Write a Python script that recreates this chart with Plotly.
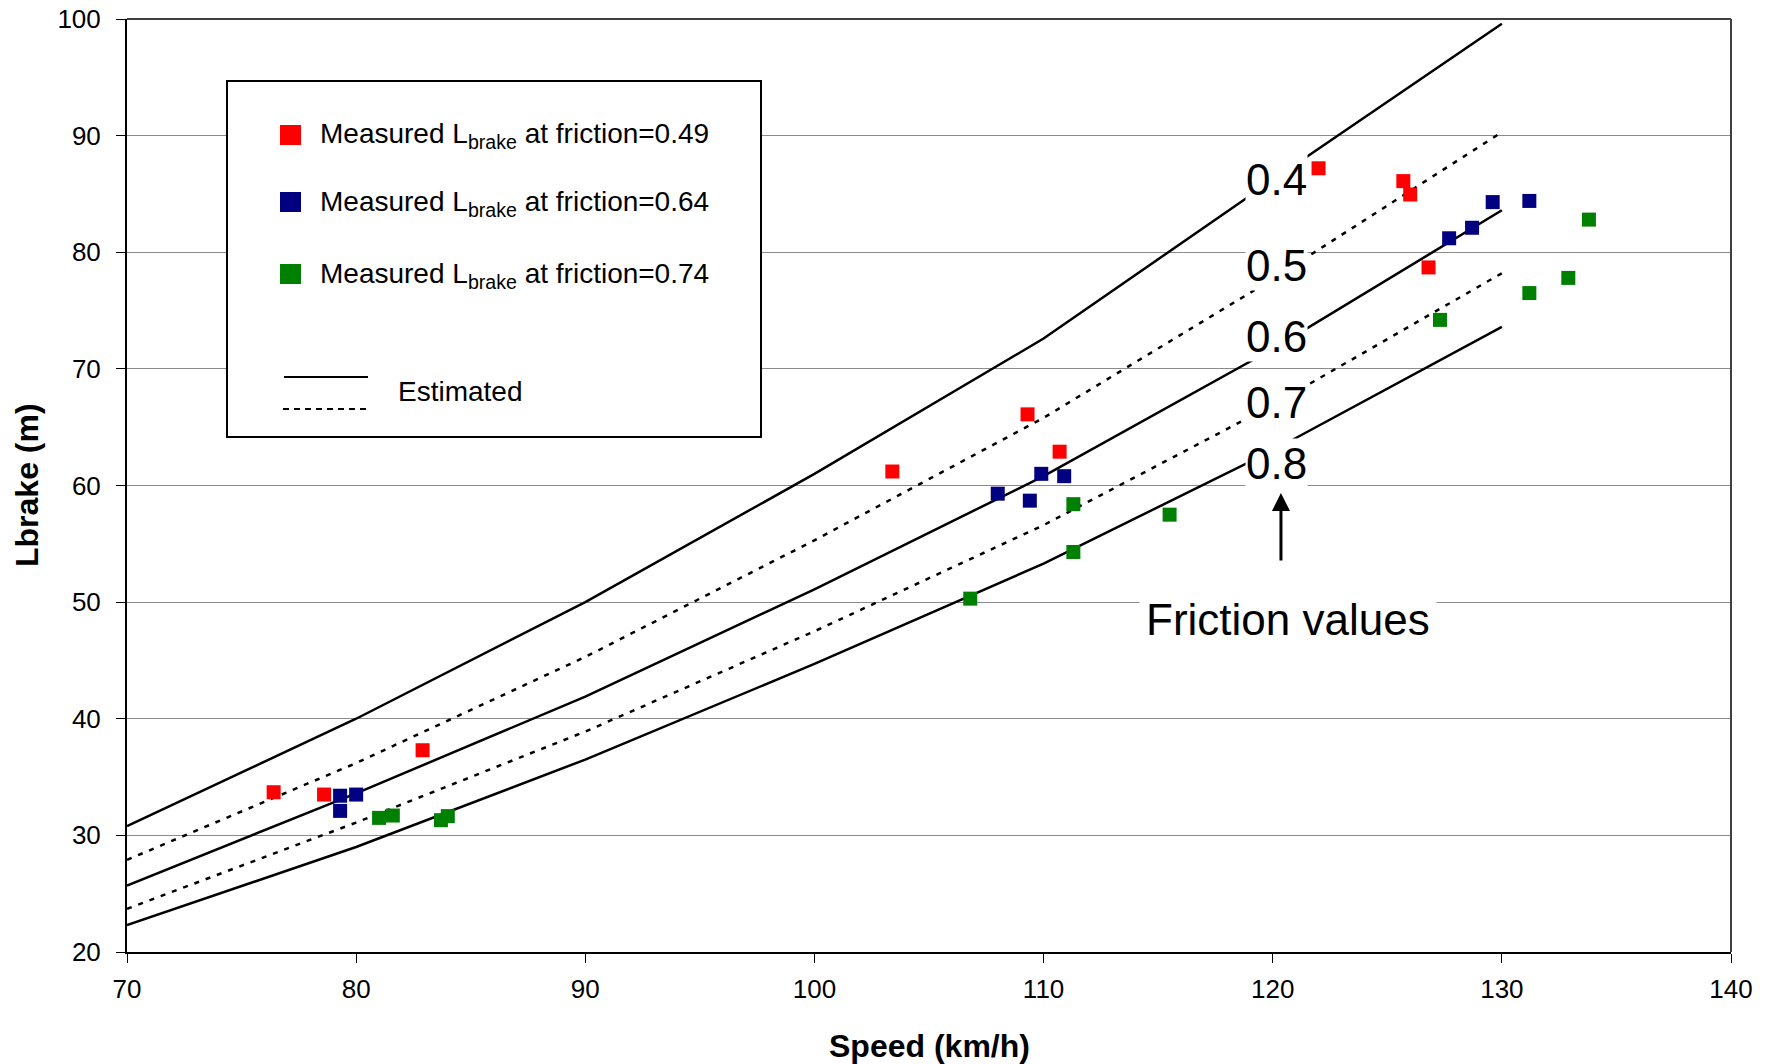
import plotly.graph_objects as go

# ---------------- data ----------------
speed_grid = [70, 80, 90, 100, 110, 120, 130]
est_mu04 = [30.8, 40.0, 50.0, 61.0, 72.6, 86.2, 99.6]
est_mu05 = [27.9, 36.2, 45.3, 55.3, 65.8, 77.7, 90.3]
est_mu06 = [25.7, 33.6, 41.9, 51.1, 60.8, 71.7, 83.6]
est_mu07 = [23.7, 31.1, 38.9, 47.5, 56.6, 66.9, 78.2]
est_mu08 = [22.3, 29.0, 36.5, 44.7, 53.3, 63.0, 73.6]

red_speed = [76.4, 78.6, 82.9, 103.4, 109.3, 110.7, 122.0, 125.7, 126.0, 126.8]
red_len = [33.7, 33.5, 37.3, 61.2, 66.1, 62.9, 87.2, 86.1, 84.95, 78.7]

blue_speed = [79.3, 79.3, 80.0, 108.0, 109.4, 109.9, 110.9, 127.7, 128.7, 129.6, 131.2]
blue_len = [33.4, 32.1, 33.5, 59.3, 58.7, 61.0, 60.8, 81.2, 82.1, 84.3, 84.4]

green_speed = [81.0, 81.6, 83.7, 84.0, 106.8, 111.3, 111.3, 115.5, 127.3, 131.2, 132.9, 133.8]
green_len = [31.5, 31.7, 31.3, 31.65, 50.3, 58.4, 54.3, 57.5, 74.2, 76.5, 77.8, 82.8]

friction_labels = ["0.4", "0.5", "0.6", "0.7", "0.8"]
friction_label_y = [86.2, 78.9, 72.8, 67.1, 61.9]

legend_texts = [
    "Measured L<sub>brake</sub> at friction=0.49",
    "Measured L<sub>brake</sub> at friction=0.64",
    "Measured L<sub>brake</sub> at friction=0.74",
]
legend_colors = ["#FF0000", "#000080", "#008000"]

x_ticks = [70, 80, 90, 100, 110, 120, 130, 140]
y_ticks = [20, 30, 40, 50, 60, 70, 80, 90, 100]

# ---------------- layout helpers (pixel -> paper) ----------------
W, H = 1773, 1064
PL, PR, PT, PB = 127, 1731, 19, 952


def px(x):
    return (x - PL) / (PR - PL)


def py(y):
    return (PB - y) / (PB - PT)


FONT = "Arial, Liberation Sans, sans-serif"

fig = go.Figure()

curves = [
    (est_mu04, "solid"),
    (est_mu05, "5px,7px"),
    (est_mu06, "solid"),
    (est_mu07, "5px,7px"),
    (est_mu08, "solid"),
]
for vals, dash in curves:
    fig.add_trace(go.Scatter(
        x=speed_grid, y=vals, mode="lines",
        line=dict(color="black", width=2.5, dash=dash),
        showlegend=False, hoverinfo="skip",
    ))

for xs, ys, col in [(red_speed, red_len, legend_colors[0]),
                    (blue_speed, blue_len, legend_colors[1]),
                    (green_speed, green_len, legend_colors[2])]:
    fig.add_trace(go.Scatter(
        x=xs, y=ys, mode="markers",
        marker=dict(symbol="square", size=14, color=col, line=dict(width=0)),
        showlegend=False,
    ))

shapes = []
annotations = []

# plot frame (top and right edges)
shapes.append(dict(type="line", xref="paper", yref="paper", x0=0, x1=1, y0=1, y1=1,
                   line=dict(color="#404040", width=2)))
shapes.append(dict(type="line", xref="paper", yref="paper", x0=1, x1=1, y0=0, y1=1,
                   line=dict(color="#404040", width=2)))

# legend box
shapes.append(dict(type="rect", xref="paper", yref="paper",
                   x0=px(227), x1=px(761), y0=py(437), y1=py(81),
                   line=dict(color="black", width=2), fillcolor="white", layer="above"))
leg_y = [135, 202, 274]
for t, c, yy in zip(legend_texts, legend_colors, leg_y):
    shapes.append(dict(type="rect", xref="paper", yref="paper",
                       x0=px(280), x1=px(301), y0=py(yy + 10), y1=py(yy - 10),
                       line=dict(width=0), fillcolor=c, layer="above"))
    annotations.append(dict(xref="paper", yref="paper", x=px(318), y=py(yy + 1),
                            text=t, showarrow=False, xanchor="left", yanchor="middle",
                            font=dict(family=FONT, size=28, color="black")))
shapes.append(dict(type="line", xref="paper", yref="paper",
                   x0=px(284), x1=px(368), y0=py(377), y1=py(377),
                   line=dict(color="black", width=2), layer="above"))
shapes.append(dict(type="line", xref="paper", yref="paper",
                   x0=px(283), x1=px(366), y0=py(409), y1=py(409),
                   line=dict(color="black", width=2, dash="6px,5px"), layer="above"))
annotations.append(dict(xref="paper", yref="paper", x=px(396), y=py(392),
                        text="Estimated", showarrow=False, xanchor="left", yanchor="middle",
                        font=dict(family=FONT, size=28, color="black")))

# friction value labels
for lab, yv in zip(friction_labels, friction_label_y):
    annotations.append(dict(xref="x", yref="y", x=120.15, y=yv, text=lab, showarrow=False,
                            xanchor="center", yanchor="middle", bgcolor="white", borderpad=0,
                            font=dict(family=FONT, size=44, color="black")))

annotations.append(dict(xref="x", yref="y", x=120.67, y=48.47, text="Friction values",
                        showarrow=False, xanchor="center", yanchor="middle",
                        bgcolor="white", borderpad=6,
                        font=dict(family=FONT, size=44, color="black")))

# arrow
annotations.append(dict(xref="x", yref="y", x=120.36, y=59.36, text=" ", showarrow=True,
                        ax=0, ay=84, arrowhead=2, arrowsize=1.2, arrowwidth=3,
                        arrowcolor="black"))

# axis titles
annotations.append(dict(xref="paper", yref="paper", x=px(929), y=py(1046),
                        text="<b>Speed (km/h)</b>", showarrow=False,
                        xanchor="center", yanchor="middle",
                        font=dict(family=FONT, size=32, color="black")))
annotations.append(dict(xref="paper", yref="paper", x=px(27), y=py(485),
                        text="<b>Lbrake (m)</b>", showarrow=False, textangle=-90,
                        xanchor="center", yanchor="middle",
                        font=dict(family=FONT, size=32, color="black")))

fig.update_layout(
    width=W, height=H,
    margin=dict(l=PL, r=W - PR, t=PT, b=H - PB, pad=0, autoexpand=False),
    paper_bgcolor="white", plot_bgcolor="white",
    showlegend=False,
    shapes=shapes, annotations=annotations,
    font=dict(family=FONT, size=26, color="black"),
)
fig.update_xaxes(
    range=[70, 140], tickvals=x_ticks, ticktext=[str(v) for v in x_ticks],
    showgrid=False, zeroline=False, automargin=False,
    showline=True, linecolor="black", linewidth=2,
    ticks="outside", ticklen=9, tickwidth=1, tickcolor="black",
    ticklabelstandoff=4,
    tickfont=dict(family=FONT, size=26, color="black"),
)
fig.update_yaxes(
    range=[20, 100], tickvals=y_ticks, ticktext=[str(v) for v in y_ticks],
    showgrid=True, gridcolor="#8c8c8c", gridwidth=1, zeroline=False, automargin=False,
    showline=True, linecolor="black", linewidth=2,
    ticks="outside", ticklen=9, tickwidth=1, tickcolor="black",
    ticklabelstandoff=10,
    tickfont=dict(family=FONT, size=26, color="black"),
)

fig.write_html("out.html")
